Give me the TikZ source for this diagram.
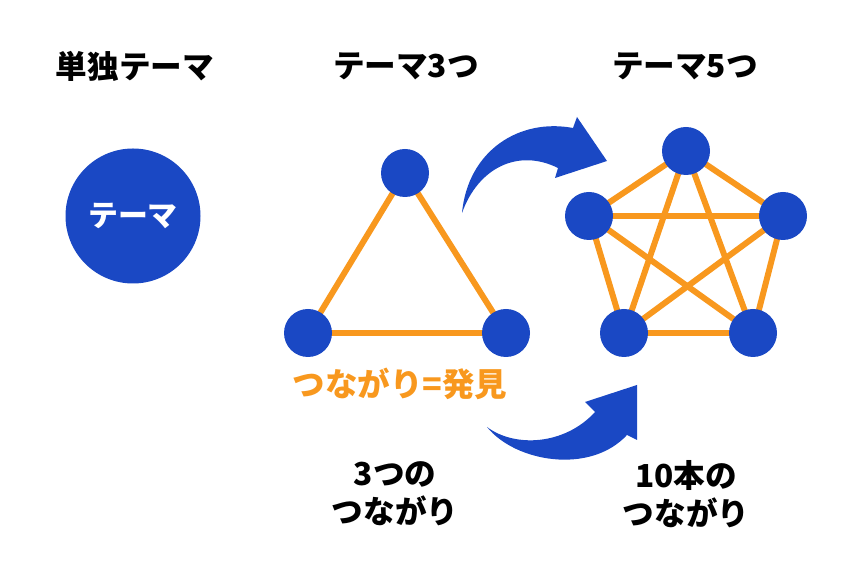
\documentclass[tikz,border=0pt]{standalone}
\usepackage{fontspec}
\setmainfont{Noto Sans CJK JP}
\usepackage{tikz}
\usetikzlibrary{arrows,shapes}
\pgfdeclarelayer{background}
\pgfsetlayers{background,main}
\definecolor{themeblue}{RGB}{26,72,196}
\definecolor{linkorange}{RGB}{248,152,30}
\newcommand{\unitpx}{*0.02cm}
\tikzstyle{vertex}=[circle,fill=themeblue,minimum size=48\unitpx,inner sep=0pt]
\tikzstyle{big vertex} = [vertex, minimum size=135\unitpx, text=white, font=\bfseries\fontsize{17}{20}\selectfont]
\tikzstyle{edge} = [draw,linkorange,line width=3.4pt,-]
\tikzstyle{title} = [font=\bfseries\fontsize{18}{22}\selectfont, text=black]
\tikzstyle{count} = [title, align=center, font=\bfseries\fontsize{18}{21.5}\selectfont]
\tikzstyle{bigarrow} = [fill=themeblue, draw=none]

\begin{document}
\begin{tikzpicture}[x=0.02cm,y=-0.02cm]
    \useasboundingbox (0,0) rectangle (860,573);
    % Titles
    \node[title] (single) at (135,66) {単独テーマ};
    \node[title] (three) at (406,66) {テーマ3つ};
    \node[title] (five) at (685,66) {テーマ5つ};

    % Single theme
    \node[big vertex] (theme) at (133,216) {テーマ};

    % First we draw the vertices
    \foreach \pos/\name in {{(405,173)/t1}, {(308,333)/t2}, {(506,333)/t3}}
        \node[vertex] (\name) at \pos {};
    \foreach \pos/\name in {{(686,151)/p1}, {(589,216)/p2}, {(783,216)/p3}, {(624,333)/p4}, {(753,333)/p5}}
        \node[vertex] (\name) at \pos {};

    % Connect vertices with edges (behind the vertices)
    \begin{pgfonlayer}{background}
    \foreach \source/ \dest in {t1/t2, t2/t3, t3/t1}
        \path[edge] (\source.center) -- (\dest.center) ;
    \foreach \source/ \dest in {p1/p2, p1/p3, p1/p4, p1/p5, p2/p3, p2/p4, p2/p5, p3/p4, p3/p5, p4/p5}
        \path[edge] (\source.center) -- (\dest.center) ;
    \end{pgfonlayer}

    % Labels
    \node[font=\bfseries\fontsize{18.5}{22}\selectfont, text=linkorange] (found) at (400,384) {つながり=発見};
    \node[count] (links3) at (395,494) {3つの\\つながり};
    \node[count] (links10) at (686,494) {10本の\\つながり};

    % Curved arrows
    \path[bigarrow] (462,213) .. controls (468,150) and (520,118) .. (573,128)
        -- (577,117) -- (607,161) -- (555,178) -- (558,168)
        .. controls (518,148) and (478,168) .. (462,213) -- cycle;
    \path[bigarrow] (487,427) .. controls (515,462) and (590,475) .. (627,435)
        -- (637,440) -- (637,385) -- (585,402) -- (595,412)
        .. controls (565,445) and (515,448) .. (487,427) -- cycle;
\end{tikzpicture}
\end{document}
